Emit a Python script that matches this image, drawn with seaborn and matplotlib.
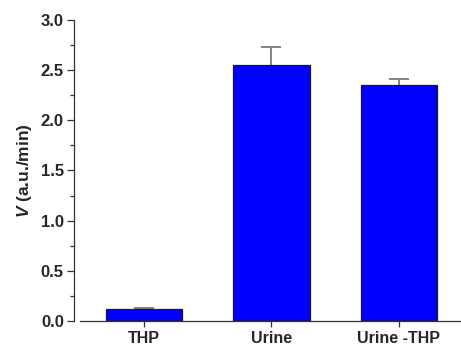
import matplotlib
matplotlib.use("Agg")
import matplotlib.pyplot as plt
import seaborn as sns
import pandas as pd
import numpy as np
from matplotlib.ticker import MultipleLocator

categories = ["THP", "Urine", "Urine -THP"]
values = [0.12, 2.55, 2.35]
errors = [0.01, 0.18, 0.06]

sns.set_theme(style="ticks")
plt.rcParams["font.family"] = ["Liberation Sans", "DejaVu Sans"]
plt.rcParams["font.weight"] = "bold"
plt.rcParams["mathtext.fontset"] = "custom"
plt.rcParams["mathtext.it"] = "Liberation Sans:italic:bold"
plt.rcParams["mathtext.rm"] = "Liberation Sans:bold"

df = pd.DataFrame({"cat": categories, "val": values})

fig = plt.figure(figsize=(4.61, 3.46), dpi=100)
ax = fig.add_axes([0.1746, 0.0723, 0.823, 0.870])

sns.barplot(data=df, x="cat", y="val", order=categories, color="#0000FF",
            saturation=1, width=0.6, edgecolor="#1a1a1a", linewidth=0.9,
            errorbar=None, ax=ax, zorder=2)
eb = ax.errorbar(categories, values, yerr=[np.zeros(len(errors)), errors],
                 fmt="none", ecolor="#7a7a7a", elinewidth=1.3, capsize=7.5,
                 capthick=1.3, zorder=1)
# hide the lower caps (sitting on the bar tops)
caplines = eb[1]
if len(caplines) >= 2:
    caplines[0].set_visible(False)

ax.set_xlim(-0.5, 2.48)
ax.set_ylim(0, 3.0)
ax.yaxis.set_major_locator(MultipleLocator(0.5))
ax.yaxis.set_minor_locator(MultipleLocator(0.25))
ax.yaxis.set_major_formatter(matplotlib.ticker.FormatStrFormatter("%.1f"))

ax.set_xlabel("")
ax.set_ylabel(r"$\mathit{V}$ (a.u./min)", fontsize=12.5, fontweight="bold",
              labelpad=5)

for s in ax.spines.values():
    s.set_color("#333333")
    s.set_linewidth(0.9)
sns.despine(ax=ax, offset={"left": 5})

ax.tick_params(axis="y", which="major", length=5, width=0.9, color="#333333",
               labelsize=12, pad=2, direction="out")
ax.tick_params(axis="y", which="minor", length=3, width=0.9, color="#333333",
               direction="out")
ax.tick_params(axis="x", which="major", length=4.5, width=0.9, color="#333333",
               labelsize=11.5, pad=3, direction="out")
for lab in ax.get_xticklabels() + ax.get_yticklabels():
    lab.set_fontweight("bold")

fig.savefig("out.png", dpi=100)
